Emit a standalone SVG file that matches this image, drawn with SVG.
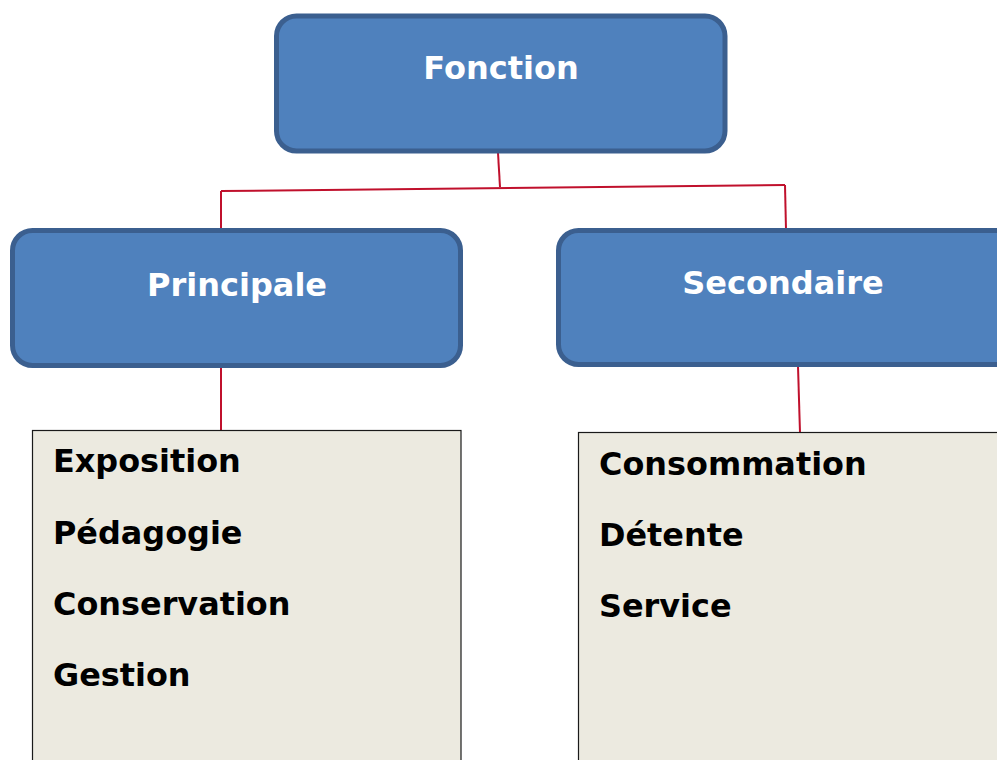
<svg xmlns="http://www.w3.org/2000/svg" width="997" height="760" viewBox="0 0 997 760">
  <style>
    .head { fill: #4f81bd; stroke: #3b5f8f; stroke-width: 5; }
    .head-label { font-family: "DejaVu Sans", Verdana, sans-serif; font-weight: bold; font-size: 32px; fill: #ffffff; text-anchor: middle; }
    .list { fill: #eceae0; stroke: #1a1a1a; stroke-width: 1.2; }
    .item { font-family: "DejaVu Sans", Verdana, sans-serif; font-weight: bold; font-size: 31.9px; fill: #000000; }
    .link { fill: none; stroke: #c0102c; stroke-width: 2; }
  </style>
  <rect width="997" height="760" fill="#ffffff"/>

  <g id="connectors">
    <path class="link" d="M498 153 L500 187"/>
    <path class="link" d="M221 191 L785 185"/>
    <path class="link" d="M221 191 L221 230"/>
    <path class="link" d="M785 185 L786 230"/>
    <path class="link" d="M221 367 L221 432"/>
    <path class="link" d="M798 366 L800 433"/>
  </g>

  <g id="fonction">
    <rect class="head" x="276.5" y="16" width="448.5" height="135" rx="20" ry="20"/>
    <text class="head-label" x="501" y="79">Fonction</text>
  </g>

  <g id="principale">
    <rect class="head" x="12.5" y="230.5" width="448" height="135" rx="20" ry="20"/>
    <text class="head-label" x="237" y="296">Principale</text>
  </g>

  <g id="secondaire">
    <rect class="head" x="558.5" y="230.5" width="460" height="134" rx="20" ry="20"/>
    <text class="head-label" x="783" y="294">Secondaire</text>
  </g>

  <g id="liste-principale">
    <rect class="list" x="32.5" y="430.5" width="428.5" height="340"/>
    <text class="item" x="53" y="472">Exposition</text>
    <text class="item" x="53" y="544">Pédagogie</text>
    <text class="item" x="53" y="615">Conservation</text>
    <text class="item" x="53" y="686">Gestion</text>
  </g>

  <g id="liste-secondaire">
    <rect class="list" x="578.5" y="432.5" width="430" height="340"/>
    <text class="item" x="599" y="475">Consommation</text>
    <text class="item" x="599" y="546">Détente</text>
    <text class="item" x="599" y="617">Service</text>
  </g>
</svg>
